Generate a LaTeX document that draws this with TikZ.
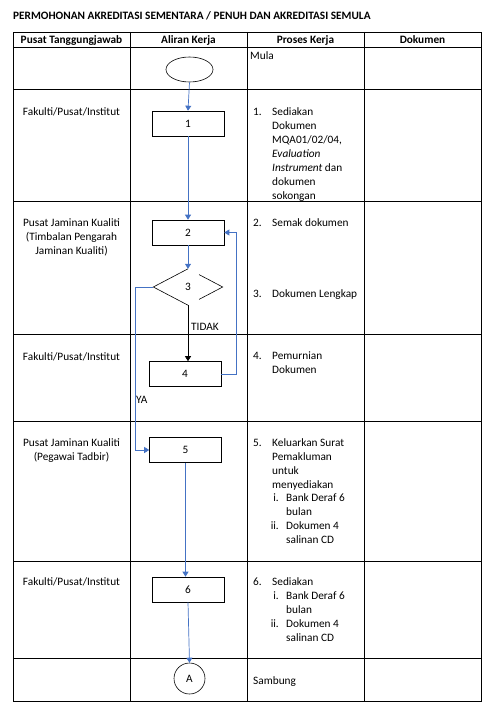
\documentclass[tikz,border=0pt]{standalone}
\usepackage{fontspec}
\setmainfont{Carlito}
\usetikzlibrary{arrows.meta,shapes.geometric,calc}
\definecolor{flowblue}{RGB}{68,114,196}

\begin{document}
\begin{tikzpicture}[x=1pt,y=-1pt,
	font=\fontsize{11.3}{14}\selectfont,
	stepbox/.style={draw,line width=0.6pt,minimum width=72pt,minimum height=25pt,inner sep=0pt},
	startend/.style={draw,ellipse,line width=0.6pt,minimum width=47pt,minimum height=25pt,inner sep=0pt},
	decision/.style={diamond,minimum width=69pt,minimum height=36pt,inner sep=0pt},
	joinpt/.style={draw,circle,line width=0.6pt,minimum size=31pt,inner sep=0pt},
	flow/.style={flowblue,line width=0.7pt,-{Triangle[width=6pt,length=5pt]}},
	unit/.style={align=center,anchor=base,inner sep=0pt},
	proc/.style={align=left,anchor=base west,inner sep=0pt},
	num/.style={anchor=base west,inner sep=0pt},
	subnum/.style={anchor=base east,inner sep=0pt},
	head/.style={anchor=base,inner sep=0pt,font=\fontsize{11.3}{14}\selectfont\bfseries}]
	\useasboundingbox (0,0) rectangle (496,714);
	% title and table (multi-line nodes sit on their last baseline)
	\node[anchor=base west,inner sep=0pt,font=\fontsize{11.3}{14}\selectfont\bfseries] (title) at (13,19.5)
		{PERMOHONAN AKREDITASI SEMENTARA / PENUH DAN AKREDITASI SEMULA};
	\draw[line width=0.8pt] (13,32) rectangle (481,701)
		(13,47) -- (481,47) (13,89) -- (481,89) (13,201) -- (481,201)
		(13,334) -- (481,334) (13,421) -- (481,421) (13,561) -- (481,561)
		(13,658) -- (481,658)
		(130,32) -- (130,701) (247,32) -- (247,701) (364,32) -- (364,701);
	\node[head] (h1) at (71.5,43.5) {Pusat Tanggungjawab};
	\node[head] (h2) at (188.5,43.5) {Aliran Kerja};
	\node[head] (h3) at (305.5,43.5) {Proses Kerja};
	\node[head] (h4) at (422.5,43.5) {Dokumen};
	% pusat tanggungjawab
	\node[unit] (u1) at (71.5,115.5) {Fakulti/Pusat/Institut};
	\node[unit] (u2) at (71.5,254.5) {Pusat Jaminan Kualiti\\(Timbalan Pengarah\\Jaminan Kualiti)};
	\node[unit] (u4) at (71.5,360.5) {Fakulti/Pusat/Institut};
	\node[unit] (u5) at (71.5,460.5) {Pusat Jaminan Kualiti\\(Pegawai Tadbir)};
	\node[unit] (u6) at (71.5,585.5) {Fakulti/Pusat/Institut};
	% aliran kerja
	\node[startend] (mula) at (189.5,69.5) {};
	\node[stepbox] (b1) at (188,123.5) {1};
	\node[stepbox] (b2) at (188,232.5) {2};
	\node[decision] (d3) at (188,287) {3};
	\node[stepbox] (b4) at (185,374) {4};
	\node[stepbox] (b5) at (185.5,450) {5};
	\node[stepbox] (b6) at (188,589.5) {6};
	\node[joinpt] (ca) at (189.5,678.5) {A};
	\draw[line width=0.6pt] ($(d3.east)!0.68!(d3.north)$) -- (d3.east) -- ($(d3.east)!0.68!(d3.south)$);
	\draw[line width=0.6pt] (d3.north) -- (d3.west) -- (d3.south);
	\draw[flow] (mula.south) -- (b1.north);
	\draw[flow] (b1.south) -- (b2.north);
	\draw[flow] (b2.south) -- (d3.north);
	\draw[line width=0.7pt,-{Triangle[width=6pt,length=5pt]}] (d3.south) -- (d3.south |- b4.north);
	\draw[flow] (b4.east) -- ++(15,0) |- (b2.east);
	\draw[flow] (d3.west) -- ++(-18,0) |- (b5.west);
	\draw[flow] (b5.south) -- (b5.south |- b6.north);
	\draw[flow] (b6.south) -- (ca.north);
	\node[num] (tidak) at (191,330.5) {TIDAK};
	\node[num] (ya) at (136,403.5) {YA};
	% proses kerja
	\node[num] (p0) at (250,59.5) {Mula};
	\node[num] (n1) at (253,115.5) {1.};
	\node[proc] (p1) at (272,199.5) {Sediakan\\Dokumen\\MQA01/02/04,\\\textit{Evaluation}\\\textit{Instrument} dan\\dokumen\\sokongan};
	\node[num] (n2) at (253,226.5) {2.};
	\node[proc] (p2) at (272,226.5) {Semak dokumen};
	\node[num] (n3) at (253,297.5) {3.};
	\node[proc] (p3) at (272,297.5) {Dokumen Lengkap};
	\node[num] (n4) at (253,359.5) {4.};
	\node[proc] (p4) at (272,373.5) {Pemurnian\\Dokumen};
	\node[num] (n5) at (253,446.5) {5.};
	\node[proc] (p5) at (272,488.5) {Keluarkan Surat\\Pemakluman\\untuk\\menyediakan};
	\node[subnum] (n5i) at (279,501.5) {i.};
	\node[proc] (p5i) at (286,515.5) {Bank Deraf 6\\bulan};
	\node[subnum] (n5ii) at (279,529.5) {ii.};
	\node[proc] (p5ii) at (286,543.5) {Dokumen 4\\salinan CD};
	\node[num] (n6) at (253,585.5) {6.};
	\node[proc] (p6) at (272,585.5) {Sediakan};
	\node[subnum] (n6i) at (279,599.5) {i.};
	\node[proc] (p6i) at (286,613.5) {Bank Deraf 6\\bulan};
	\node[subnum] (n6ii) at (279,627.5) {ii.};
	\node[proc] (p6ii) at (286,641.5) {Dokumen 4\\salinan CD};
	\node[num] (p7) at (253,684.5) {Sambung};
\end{tikzpicture}
\end{document}
